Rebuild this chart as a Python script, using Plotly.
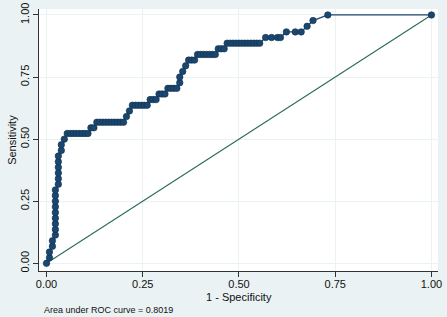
import plotly.graph_objects as go

# ROC curve: counts of false / true positives
n_neg = 130
n_pos = 44
fp_counts = [0, 1, 1, 2, 2, 3, 3, 3, 3, 3, 3, 3, 3, 3,
             4, 4, 4, 4, 4, 4, 5, 5, 6,
             7, 8, 9, 10, 11, 12, 13, 14,
             15, 16,
             17, 18, 19, 20, 21, 22, 23, 24, 25, 26,
             27, 28,
             29, 30, 31, 32, 33, 34,
             35, 36, 37,
             38, 39, 40,
             41, 42, 43, 44,
             45, 45, 46, 47,
             48, 49, 50,
             51, 52, 53, 54, 55, 56, 57,
             58, 59, 60,
             61, 62, 63, 64, 65, 66, 67, 68, 69, 70, 71, 72,
             74, 76, 78, 79,
             81, 84, 86,
             88, 90, 95, 130]
tp_counts = [0, 1, 2, 3, 4, 5, 6, 7, 8, 9, 10, 11, 12, 13,
             14, 15, 16, 17, 18, 19, 20, 21, 22,
             23, 23, 23, 23, 23, 23, 23, 23,
             24, 24,
             25, 25, 25, 25, 25, 25, 25, 25, 25, 25,
             26, 27,
             28, 28, 28, 28, 28, 28,
             29, 29, 29,
             30, 30, 30,
             31, 31, 31, 31,
             32, 33, 34, 35,
             36, 36, 36,
             37, 37, 37, 37, 37, 37, 37,
             38, 38, 38,
             39, 39, 39, 39, 39, 39, 39, 39, 39, 39, 39, 39,
             40, 40, 40, 40,
             41, 41, 41,
             42, 43, 44, 44]

one_minus_spec = [f / n_neg for f in fp_counts]
sensitivity = [t / n_pos for t in tp_counts]

ref_x = [0, 1]
ref_y = [0, 1]

tick_vals = [0, 0.25, 0.5, 0.75, 1.0]
tick_text = ["0.00", "0.25", "0.50", "0.75", "1.00"]
auc_text = "Area under ROC curve = 0.8019"

BG = "#eaf2f3"
NAVY = "#1a476f"
GREEN = "#2a6b5c"
FONT = "Liberation Sans, Arial, sans-serif"

fig = go.Figure()
fig.add_trace(go.Scatter(x=ref_x, y=ref_y, mode="lines",
                         line=dict(color=GREEN, width=1.1),
                         hoverinfo="skip", showlegend=False))
fig.add_trace(go.Scatter(x=one_minus_spec, y=sensitivity, mode="lines+markers",
                         line=dict(color=NAVY, width=1.3),
                         marker=dict(color=NAVY, size=6.5,
                                     line=dict(color="#10304d", width=0.6)),
                         showlegend=False))

axis_common = dict(
    tickmode="array", tickvals=tick_vals, ticktext=tick_text,
    showgrid=True, gridcolor=BG, gridwidth=1,
    zeroline=False, showline=True, linecolor="#333333", linewidth=1,
    ticks="outside", ticklen=5, tickcolor="#333333", tickwidth=1,
    tickfont=dict(family=FONT, size=11, color="#111111"),
    mirror=False, automargin=False,
)

fig.update_layout(
    width=447, height=317,
    margin=dict(l=39, r=9, t=9, b=46),
    paper_bgcolor=BG, plot_bgcolor="white",
    xaxis=dict(range=[-0.0195, 1.017], ticklabelstandoff=-2, **axis_common),
    yaxis=dict(range=[-0.031, 1.024], tickangle=-90, **axis_common),
    showlegend=False,
    annotations=[
        dict(text="Sensitivity", xref="paper", yref="paper", x=-0.068, y=0.5,
             textangle=-90, showarrow=False, xanchor="center", yanchor="middle",
             font=dict(family=FONT, size=11, color="#111111")),
        dict(text="1 - Specificity", xref="paper", yref="paper", x=0.5, y=-0.099,
             showarrow=False, xanchor="center", yanchor="middle",
             font=dict(family=FONT, size=11, color="#111111")),
        dict(text=auc_text, xref="paper", yref="paper", x=0.007, y=-0.149,
             showarrow=False, xanchor="left", yanchor="middle",
             font=dict(family=FONT, size=9, color="#111111")),
    ],
)

fig.write_html("out.html", config={"displayModeBar": False})

# remove the browser's default 8px page margin so the figure sits at (0, 0)
with open("out.html", "r", encoding="utf-8") as fh:
    html = fh.read()
html = html.replace("<body>", '<body style="margin:0;padding:0;overflow:hidden;">', 1)
with open("out.html", "w", encoding="utf-8") as fh:
    fh.write(html)
